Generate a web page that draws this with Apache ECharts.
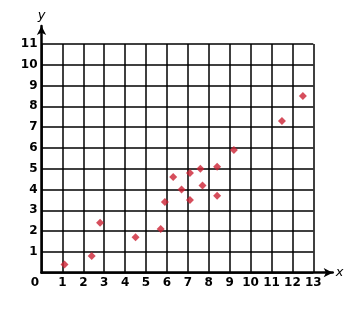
<!DOCTYPE html>
<html>
<head>
<meta charset="utf-8">
<script src="https://cdn.jsdelivr.net/npm/echarts@6/dist/echarts.min.js"></script>
<style>
html,body{margin:0;padding:0;background:#fff;}
#c{width:357px;height:310px;}
</style>
</head>
<body>
<div id="c"></div>
<script>
var xValues = [1.1, 2.4, 2.8, 4.5, 5.7, 5.9, 6.3, 6.7, 7.1, 7.1, 7.6, 7.7, 8.4, 8.4, 9.2, 11.5, 12.5];
var yValues = [0.4, 0.8, 2.4, 1.7, 2.1, 3.4, 4.6, 4.0, 4.8, 3.5, 5.0, 4.2, 3.7, 5.1, 5.9, 7.3, 8.5];
var xTicks = [0, 1, 2, 3, 4, 5, 6, 7, 8, 9, 10, 11, 12, 13];
var yTicks = [0, 1, 2, 3, 4, 5, 6, 7, 8, 9, 10, 11];

var points = xValues.map(function (x, i) { return [x, yValues[i]]; });
var font = 'DejaVu Sans';
var chart = echarts.init(document.getElementById('c'), null, {renderer: 'canvas'});
chart.setOption({
  animation: false,
  backgroundColor: '#fff',
  grid: [
    {left: 41.5, right: 43.7, top: 44, bottom: 37.3},
    {left: 41.5, right: 24.3, top: 26, bottom: 37.3}
  ],
  xAxis: [
    {
      gridIndex: 0, type: 'value', min: xTicks[0], max: xTicks[xTicks.length - 1], interval: 1,
      axisLine: {show: false}, axisTick: {show: false},
      splitLine: {show: true, lineStyle: {color: '#000', width: 1.5}},
      axisLabel: {
        margin: 4, color: '#000', fontFamily: font, fontWeight: 'bold', fontSize: 12,
        showMinLabel: true, showMaxLabel: true,
        formatter: function (v) { return v === 0 ? '{z|0}' : String(v); },
        rich: {z: {padding: [0, 13, 0, 0], color: '#000', fontFamily: font, fontWeight: 'bold', fontSize: 12}}
      }
    },
    {
      gridIndex: 1, type: 'value', min: 0, max: 1,
      axisLine: {show: true, symbol: ['none', 'arrow'], symbolSize: [7, 9], lineStyle: {color: '#000', width: 2.5}},
      axisTick: {show: false}, axisLabel: {show: false}, splitLine: {show: false},
      name: 'x', nameLocation: 'end', nameGap: 3,
      nameTextStyle: {color: '#000', fontFamily: font, fontStyle: 'italic', fontSize: 13, verticalAlign: 'middle'}
    }
  ],
  yAxis: [
    {
      gridIndex: 0, type: 'value', min: yTicks[0], max: yTicks[yTicks.length - 1], interval: 1,
      axisLine: {show: false}, axisTick: {show: false},
      splitLine: {show: true, lineStyle: {color: '#000', width: 1.5}},
      axisLabel: {
        margin: 4, color: '#000', fontFamily: font, fontWeight: 'bold', fontSize: 12,
        formatter: function (v) { return v === 0 ? '' : String(v); }
      }
    },
    {
      gridIndex: 1, type: 'value', min: 0, max: 1,
      axisLine: {show: true, symbol: ['none', 'arrow'], symbolSize: [7, 9], lineStyle: {color: '#000', width: 2.5}},
      axisTick: {show: false}, axisLabel: {show: false}, splitLine: {show: false},
      name: 'y', nameLocation: 'end', nameGap: 4,
      nameTextStyle: {color: '#000', fontFamily: font, fontStyle: 'italic', fontSize: 13}
    }
  ],
  series: [{
    type: 'scatter', xAxisIndex: 0, yAxisIndex: 0,
    symbol: 'diamond', symbolSize: 8,
    itemStyle: {color: '#cc2233'},
    data: points
  }]
});
</script>
</body>
</html>
